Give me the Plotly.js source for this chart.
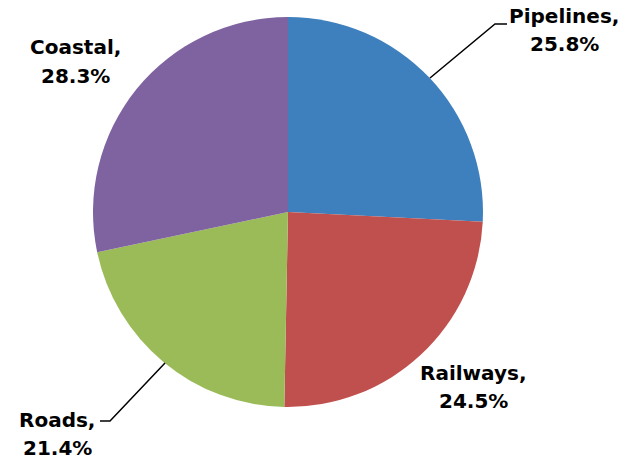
<!DOCTYPE html>
<html>
<head>
<meta charset="utf-8">
<script src="https://cdn.plot.ly/plotly-3.0.1.min.js"></script>
<style>html,body{margin:0;padding:0;background:#fff;}#chart{width:629px;height:459px;}</style>
</head>
<body>
<div id="chart"></div>
<script>
const categories = ["Pipelines", "Railways", "Roads", "Coastal"];
const shares = [25.8, 24.5, 21.4, 28.3];
const colors = ["#3E7FBD", "#C0504D", "#9BBB59", "#7F63A0"];

const W = 629, H = 459;
const px = x => x / W;
const py = y => 1 - y / H;

// label line centres (pixel): [x, yLine1, yLine2] — styling only
const labelPos = [[564, 16, 44], [473, 373, 401], [57, 420, 448], [75, 47, 76]];

const font = {family: 'DejaVu Sans, Verdana, sans-serif', size: 20, color: '#000', weight: 'bold'};
const annotations = [];
categories.forEach((c, i) => {
  const lines = [c + ',', shares[i].toFixed(1) + '%'];
  lines.forEach((t, k) => annotations.push({
    xref: 'paper', yref: 'paper',
    x: px(labelPos[i][0]), y: py(labelPos[i][1 + k]),
    xanchor: 'center', yanchor: 'middle',
    text: '<b>' + t + '</b>',
    showarrow: false,
    font: font
  }));
});

const shapes = [
  {type: 'path', xref: 'paper', yref: 'paper',
   path: `M ${px(430)} ${py(78)} L ${px(495)} ${py(24)} L ${px(507)} ${py(24)}`,
   line: {color: '#000', width: 1.5}},
  {type: 'path', xref: 'paper', yref: 'paper',
   path: `M ${px(165)} ${py(363)} L ${px(110)} ${py(421)} L ${px(100)} ${py(421)}`,
   line: {color: '#000', width: 1.5}}
];

const data = [{
  type: 'pie',
  labels: categories,
  values: shares,
  marker: {colors: colors, line: {width: 0}},
  sort: false,
  direction: 'clockwise',
  rotation: 0,
  textinfo: 'none',
  hoverinfo: 'label+percent',
  domain: {x: [(288 - 195) / W, (288 + 195) / W], y: [(247 - 195) / H, (247 + 195) / H]}
}];

const layout = {
  width: W, height: H,
  margin: {l: 0, r: 0, t: 0, b: 0},
  showlegend: false,
  paper_bgcolor: '#fff',
  annotations: annotations,
  shapes: shapes
};

Plotly.newPlot('chart', data, layout, {staticPlot: true, displayModeBar: false});
</script>
</body>
</html>
